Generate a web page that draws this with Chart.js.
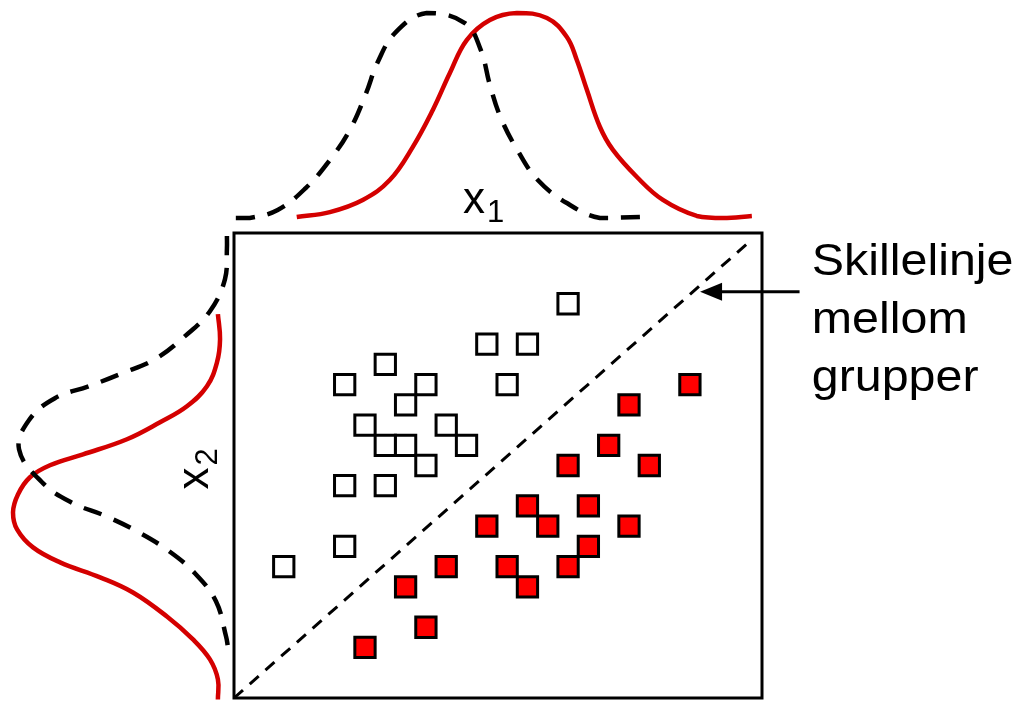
<!DOCTYPE html>
<html>
<head>
<meta charset="utf-8">
<script src="https://cdn.jsdelivr.net/npm/chart.js@4.4.1/dist/chart.umd.min.js"></script>
<style>
  html, body { margin: 0; padding: 0; background: #fff; }
  #wrap { position: relative; width: 1023px; height: 702px; overflow: hidden; }
  #wrap canvas { position: absolute; }
</style>
</head>
<body>
<div id="wrap">
  <canvas id="main" width="1023" height="702" style="left:0;top:0"></canvas>
  <canvas id="top" width="528" height="233" style="left:234px;top:0"></canvas>
  <canvas id="side" width="234" height="469" style="left:0;top:233px"></canvas>
</div>
<script>
// ---- Observations (x1, x2) for the two groups ----
const groupA_x1 = [14, 10, 12, 5, 3, 7, 11, 6, 4, 8, 5, 6, 9, 7, 3, 5, 3, 0];
const groupA_x2 = [17, 15, 15, 14, 13, 13, 13, 12, 11, 11, 10, 10, 10, 9, 8, 8, 5, 4];
const groupB_x1 = [20, 17, 16, 14, 18, 12, 15, 10, 13, 17, 15, 8, 11, 14, 6, 12, 7, 4];
const groupB_x2 = [13, 12, 10, 9, 9, 7, 7, 6, 6, 6, 5, 4, 4, 4, 3, 3, 1, 0];

// ---- Axis ranges ----
const X1_RANGE = [-2.45, 23.55];
const X2_RANGE = [-2.5, 20.5];

// ---- Separating line (x1, x2 endpoints) ----
const sepLine_x1 = [-2.45, 22.85];
const sepLine_x2 = [-2.5, 20.0];

// ---- Marginal distribution of x1 (relative density) ----
const margX1_A_x = [-2.36, -1.67, -0.30, 1.08, 2.27, 3.25, 4.04, 4.63, 5.52, 7.04, 8.92, 9.70, 10.15, 10.69, 11.53, 12.51, 13.94, 15.57, 17.54];
const margX1_A_d = [0, 0, 0.039, 0.146, 0.283, 0.429, 0.605, 0.761, 0.907, 1.0, 0.951, 0.82, 0.649, 0.488, 0.327, 0.185, 0.073, 0, 0.005];
const margX1_B_x = [0.64, 2.27, 3.89, 5.22, 6.35, 7.34, 8.18, 9.01, 10.15, 11.48, 12.96, 13.94, 14.43, 14.93, 15.57, 16.21, 17.39, 18.67, 20.34, 21.63, 23.05];
const margX1_B_d = [0.005, 0.029, 0.088, 0.185, 0.346, 0.527, 0.707, 0.868, 0.966, 1.0, 0.976, 0.883, 0.771, 0.624, 0.444, 0.332, 0.2, 0.088, 0.01, 0, 0.01];

// ---- Marginal distribution of x2 (relative density) ----
const margX2_A_y = [20.35, 19.75, 18.22, 16.63, 15.40, 14.26, 13.56, 12.92, 12.33, 11.24, 9.80, 8.17, 7.18, 6.49, 5.74, 4.80, 3.66, 2.28, 0.54, 0];
const margX2_A_d = [0.005, 0.005, 0.014, 0.084, 0.2, 0.34, 0.493, 0.647, 0.805, 0.926, 0.972, 0.865, 0.73, 0.567, 0.423, 0.279, 0.153, 0.056, 0.009, 0];
const margX2_B_y = [16.49, 15.25, 14.11, 12.92, 11.93, 11.14, 10.30, 9.55, 9.01, 8.42, 7.57, 6.68, 5.84, 4.95, 4.21, 3.47, 2.72, 1.53, 0.40, -0.59, -1.58, -2.57];
const margX2_B_d = [0.047, 0.037, 0.051, 0.098, 0.191, 0.316, 0.47, 0.674, 0.828, 0.921, 0.977, 1.0, 0.981, 0.907, 0.781, 0.595, 0.442, 0.284, 0.163, 0.084, 0.047, 0.047];

// ---- Annotation ----
const NOTE_LINES = ['Skillelinje', 'mellom', 'grupper'];
const NOTE_POS = [26.0, 18.42];      // (x1, x2) of first text baseline start
const ARROW_TIP = [20.5, 17.6];      // (x1, x2)
const ARROW_TAIL_X1 = 25.4;

const RED_FILL = '#ff0000';
const RED_LINE = '#d40000';
const FONT = '"Liberation Sans", Arial, Helvetica, sans-serif';

const zip = (xs, ys) => xs.map((v, i) => ({ x: v, y: ys[i] }));

Chart.defaults.animation = false;
Chart.defaults.plugins.legend.display = false;
Chart.defaults.plugins.tooltip.enabled = false;
Chart.defaults.events = [];

// frame around the scatter area
const boxFrame = {
  id: 'boxFrame',
  afterDatasetsDraw(chart) {
    const { ctx, chartArea: a } = chart;
    ctx.save();
    ctx.strokeStyle = '#000';
    ctx.lineWidth = 3;
    ctx.strokeRect(a.left, a.top, a.right - a.left, a.bottom - a.top);
    ctx.restore();
  }
};

// arrow, note text and variable names
const annotate = {
  id: 'annotate',
  afterDraw(chart) {
    const { ctx, scales: { x, y }, chartArea: a } = chart;
    ctx.save();
    ctx.fillStyle = '#000';
    ctx.strokeStyle = '#000';

    const tipX = x.getPixelForValue(ARROW_TIP[0]);
    const tipY = y.getPixelForValue(ARROW_TIP[1]);
    const tailX = x.getPixelForValue(ARROW_TAIL_X1);
    ctx.lineWidth = 3;
    ctx.beginPath();
    ctx.moveTo(tailX, tipY);
    ctx.lineTo(tipX + 16, tipY);
    ctx.stroke();
    ctx.beginPath();
    ctx.moveTo(tipX, tipY);
    ctx.lineTo(tipX + 22, tipY - 9);
    ctx.lineTo(tipX + 22, tipY + 9);
    ctx.closePath();
    ctx.fill();

    ctx.font = '44px ' + FONT;
    ctx.textBaseline = 'alphabetic';
    ctx.textAlign = 'left';
    const nx = x.getPixelForValue(NOTE_POS[0]);
    const ny = y.getPixelForValue(NOTE_POS[1]);
    NOTE_LINES.forEach((s, k) => {
      ctx.save();
      ctx.translate(nx, ny + k * 58);
      ctx.scale(1.1, 1);
      ctx.fillText(s, 0, 0);
      ctx.restore();
    });

    // x1 above the frame
    const bigF = '44px ' + FONT, subF = '31px ' + FONT;
    ctx.font = bigF;
    const wx = ctx.measureText('x').width;
    const lx = a.left + 229, ly = a.top - 20;
    ctx.fillText('x', lx, ly);
    ctx.font = subF;
    ctx.fillText('1', lx + wx + 2, ly + 9);

    // x2 beside the frame, rotated
    ctx.save();
    ctx.translate(a.left - 26, (a.top + a.bottom) / 2 + 24);
    ctx.rotate(-Math.PI / 2);
    ctx.font = bigF;
    ctx.fillText('x', 0, 0);
    ctx.font = subF;
    ctx.fillText('2', wx + 2, 9);
    ctx.restore();

    ctx.restore();
  }
};

new Chart(document.getElementById('main'), {
  type: 'scatter',
  data: {
    datasets: [
      {
        data: zip(sepLine_x1, sepLine_x2),
        showLine: true,
        borderColor: '#000',
        borderWidth: 3,
        borderDash: [12, 9],
        pointRadius: 0,
        clip: false
      },
      {
        data: zip(groupA_x1, groupA_x2),
        pointStyle: 'rect',
        pointRadius: 14.35,
        backgroundColor: '#ffffff',
        borderColor: '#000',
        borderWidth: 3,
        clip: false
      },
      {
        data: zip(groupB_x1, groupB_x2),
        pointStyle: 'rect',
        pointRadius: 14.35,
        backgroundColor: RED_FILL,
        borderColor: '#000',
        borderWidth: 3,
        clip: false
      }
    ]
  },
  options: {
    responsive: false,
    layout: { autoPadding: false, padding: { left: 234, top: 233, right: 261, bottom: 4 } },
    scales: {
      x: { type: 'linear', min: X1_RANGE[0], max: X1_RANGE[1], display: false },
      y: { type: 'linear', min: X2_RANGE[0], max: X2_RANGE[1], display: false }
    }
  },
  plugins: [boxFrame, annotate]
});

// marginal density of x1
new Chart(document.getElementById('top'), {
  type: 'scatter',
  data: {
    datasets: [
      {
        data: zip(margX1_A_x, margX1_A_d),
        showLine: true, tension: 0.4,
        borderColor: '#000', borderWidth: 4.5, borderDash: [19, 13],
        pointRadius: 0, clip: false
      },
      {
        data: zip(margX1_B_x, margX1_B_d),
        showLine: true, tension: 0.4,
        borderColor: RED_LINE, borderWidth: 4.5,
        pointRadius: 0, clip: false
      }
    ]
  },
  options: {
    responsive: false,
    layout: { autoPadding: false, padding: { left: 0, right: 0, top: 13, bottom: 15 } },
    scales: {
      x: { type: 'linear', min: X1_RANGE[0], max: X1_RANGE[1], display: false },
      y: { type: 'linear', min: 0, max: 1, display: false }
    }
  }
});

// marginal density of x2
new Chart(document.getElementById('side'), {
  type: 'scatter',
  data: {
    datasets: [
      {
        data: zip(margX2_A_d, margX2_A_y),
        showLine: true, tension: 0.4,
        borderColor: '#000', borderWidth: 4.5, borderDash: [19, 13],
        pointRadius: 0, clip: false
      },
      {
        data: zip(margX2_B_d, margX2_B_y),
        showLine: true, tension: 0.4,
        borderColor: RED_LINE, borderWidth: 4.5,
        pointRadius: 0, clip: false
      }
    ]
  },
  options: {
    responsive: false,
    layout: { autoPadding: false, padding: { left: 13, right: 6, top: 0, bottom: 4 } },
    scales: {
      x: { type: 'linear', min: 0, max: 1, reverse: true, display: false },
      y: { type: 'linear', min: X2_RANGE[0], max: X2_RANGE[1], display: false }
    }
  }
});
</script>
</body>
</html>
